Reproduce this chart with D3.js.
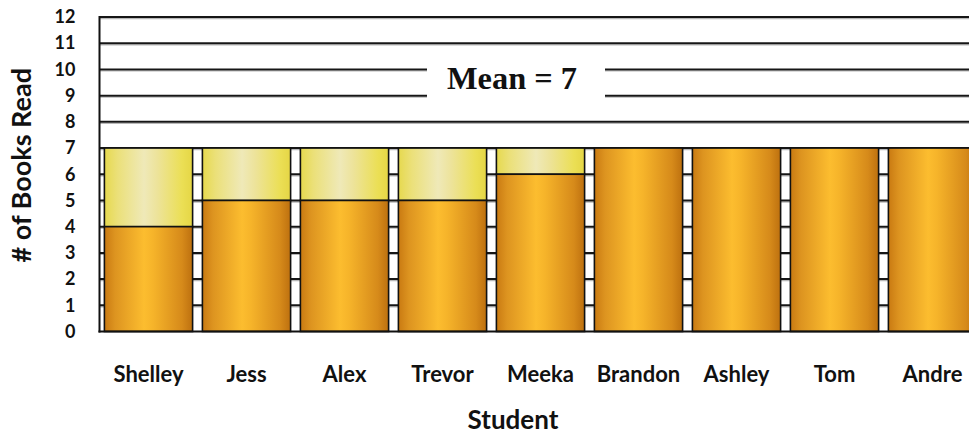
<!DOCTYPE html>
<html>
<head>
<meta charset="utf-8">
<script src="https://cdn.jsdelivr.net/npm/d3@7"></script>
<style>
  html, body { margin: 0; padding: 0; background: #fff; }
  svg { display: block; }
</style>
</head>
<body>
<svg id="chart" width="969" height="434"></svg>
<script>
// ---- data ----
const students = ["Shelley", "Jess", "Alex", "Trevor", "Meeka", "Brandon", "Ashley", "Tom", "Andre"];
const booksRead = [4, 5, 5, 5, 6, 7, 7, 7, 7];
const meanValue = 7;
const yTicks = [0, 1, 2, 3, 4, 5, 6, 7, 8, 9, 10, 11, 12];
const meanLabel = "Mean = 7";
const chartTitle = "Books Read in Our Group";
const xTitle = "Student";
const yTitle = "# of Books Read";

// ---- layout ----
const W = 969, H = 434;
const mLeft = 99.5, mRight = 981.5, mTop = 17, mBottom = 331.5;

const svg = d3.select("#chart");
const defs = svg.append("defs");

const gOrange = defs.append("linearGradient").attr("id", "gOrange")
  .attr("x1", "0%").attr("x2", "100%").attr("y1", "0%").attr("y2", "0%");
[["0%", "#c97a12"], ["12%", "#dd9420"], ["45%", "#fcbd2f"], ["55%", "#f6b42a"], ["88%", "#d68a1a"], ["100%", "#bd700f"]]
  .forEach(([o, c]) => gOrange.append("stop").attr("offset", o).attr("stop-color", c));

const gYellow = defs.append("linearGradient").attr("id", "gYellow")
  .attr("x1", "0%").attr("x2", "100%").attr("y1", "0%").attr("y2", "0%");
[["0%", "#e6d94e"], ["15%", "#ebe079"], ["45%", "#efe9b8"], ["60%", "#ede39a"], ["88%", "#ebdf55"], ["100%", "#e5d645"]]
  .forEach(([o, c]) => gYellow.append("stop").attr("offset", o).attr("stop-color", c));

const x = d3.scaleBand().domain(students).range([mLeft, mRight])
  .paddingInner(0.1).paddingOuter(0.05);
const y = d3.scaleLinear().domain([0, 12]).range([mBottom, mTop]);

// gridlines (behind bars)
const grid = svg.append("g");
yTicks.filter(t => t > 0).forEach(t => {
  grid.append("line")
    .attr("x1", mLeft).attr("x2", W + 20)
    .attr("y1", y(t) + 1.6).attr("y2", y(t) + 1.6)
    .attr("stroke", "#b8b8b8").attr("stroke-width", 1.2);
  grid.append("line")
    .attr("x1", mLeft).attr("x2", W + 20)
    .attr("y1", y(t)).attr("y2", y(t))
    .attr("stroke", "#161616").attr("stroke-width", 2);
});

// bars
const bars = svg.append("g");
students.forEach((s, i) => {
  const v = booksRead[i];
  if (v < meanValue) {
    bars.append("rect")
      .attr("x", x(s)).attr("width", x.bandwidth())
      .attr("y", y(meanValue)).attr("height", y(v) - y(meanValue))
      .attr("fill", "url(#gYellow)")
      .attr("stroke", "#111").attr("stroke-width", 1.6);
  }
  bars.append("rect")
    .attr("x", x(s)).attr("width", x.bandwidth())
    .attr("y", y(v)).attr("height", y(0) - y(v))
    .attr("fill", "url(#gOrange)")
    .attr("stroke", "#111").attr("stroke-width", 1.6);
});

// mean label with white backing
const mg = svg.append("g");
mg.append("rect")
  .attr("x", 427).attr("y", y(10.5)).attr("width", 178).attr("height", y(8.7) - y(10.5))
  .attr("fill", "#fff");
mg.append("text")
  .attr("x", 512).attr("y", 89)
  .attr("text-anchor", "middle")
  .attr("font-family", "'Liberation Serif', serif")
  .attr("font-weight", "bold")
  .attr("font-size", 31)
  .attr("textLength", 130).attr("lengthAdjust", "spacingAndGlyphs")
  .attr("fill", "#111")
  .text(meanLabel);

// axes
svg.append("line").attr("x1", mLeft).attr("x2", mLeft).attr("y1", mTop - 1).attr("y2", mBottom + 1)
  .attr("stroke", "#111").attr("stroke-width", 2);
svg.append("line").attr("x1", mLeft - 1).attr("x2", W + 20).attr("y1", mBottom).attr("y2", mBottom)
  .attr("stroke", "#111").attr("stroke-width", 2);

const yAxis = d3.axisLeft(y).tickValues(yTicks).tickSize(0).tickPadding(24).tickFormat(d3.format("d"));
const ya = svg.append("g").attr("transform", `translate(${mLeft},0)`).call(yAxis);
ya.select(".domain").remove();
ya.selectAll("text")
  .attr("font-family", "Lato, sans-serif").attr("font-weight", "bold")
  .attr("font-size", 18).attr("fill", "#111");

const xAxis = d3.axisBottom(x).tickSize(0).tickPadding(35);
const xa = svg.append("g").attr("transform", `translate(0,${mBottom})`).call(xAxis);
xa.select(".domain").remove();
xa.selectAll("text")
  .attr("font-family", "Lato, sans-serif").attr("font-weight", "bold")
  .attr("font-size", 22).attr("fill", "#111");

// titles
svg.append("text")
  .attr("x", 513).attr("y", 429)
  .attr("text-anchor", "middle")
  .attr("font-family", "Lato, sans-serif").attr("font-weight", "bold")
  .attr("font-size", 26).attr("fill", "#111")
  .text(xTitle);

svg.append("text")
  .attr("transform", `translate(31,${(mTop + mBottom) / 2 - 9}) rotate(-90)`)
  .attr("text-anchor", "middle")
  .attr("font-family", "Lato, sans-serif").attr("font-weight", "bold")
  .attr("font-size", 27).attr("fill", "#111")
  .text(yTitle);

// chart title sits above the visible frame, as in the reference
svg.append("text")
  .attr("x", 535).attr("y", -4)
  .attr("text-anchor", "middle")
  .attr("font-family", "Lato, sans-serif").attr("font-weight", "bold")
  .attr("font-size", 24).attr("fill", "#111")
  .text(chartTitle);
</script>
</body>
</html>
